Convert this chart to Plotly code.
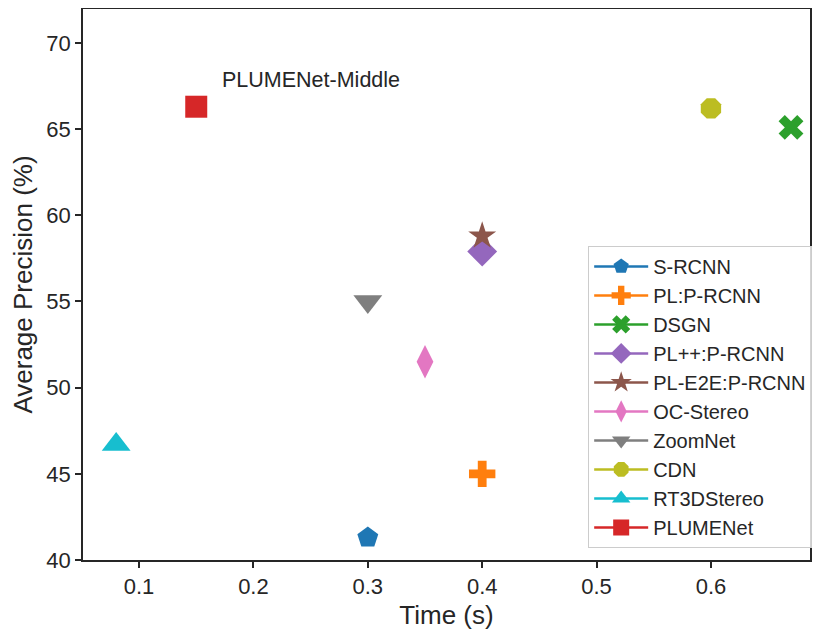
import plotly.graph_objects as go

# methods, runtime (s) and AP (%)
methods = ['S-RCNN', 'PL:P-RCNN', 'DSGN', 'PL++:P-RCNN', 'PL-E2E:P-RCNN',
           'OC-Stereo', 'ZoomNet', 'CDN', 'RT3DStereo', 'PLUMENet']
times = [0.30, 0.40, 0.67, 0.40, 0.40, 0.35, 0.30, 0.60, 0.08, 0.15]
precision = [41.3, 45.0, 65.1, 57.9, 58.8, 51.5, 55.0, 66.2, 46.7, 66.3]

symbols = ['pentagon', 'cross', 'x', 'diamond', 'star',
           'diamond-tall', 'triangle-down', 'octagon', 'triangle-up', 'square']
colors = ['#1f77b4', '#ff7f0e', '#2ca02c', '#9467bd', '#8c564b',
          '#e377c2', '#7f7f7f', '#bcbd22', '#17becf', '#d62728']
sizes = [22, 22, 22, 23, 21, 24, 25, 22, 25, 22]

x_ticks = [0.1, 0.2, 0.3, 0.4, 0.5, 0.6]
y_ticks = [40, 45, 50, 55, 60, 65, 70]

fig = go.Figure()
for name, t, ap, sym, col, sz in zip(methods, times, precision, symbols, colors, sizes):
    fig.add_trace(go.Scatter(
        x=[t], y=[ap], name=name, mode='lines+markers',
        marker=dict(symbol=sym, color=col, size=sz, line=dict(width=0)),
        line=dict(color=col, width=2.5),
    ))

fig.add_annotation(x=0.171, y=67.85, text='PLUMENet-Middle', showarrow=False,
                   xanchor='left', yanchor='middle',
                   font=dict(size=21.5, color='#262626'))

axis_style = dict(
    showgrid=False, zeroline=False, showline=True, mirror=True, automargin=False,
    linecolor='#262626', linewidth=1.5, ticks='outside', ticklen=6,
    tickwidth=1.5, tickcolor='#262626', tickfont=dict(size=22, color='#262626'),
)

fig.update_xaxes(range=[0.051, 0.6866], tickvals=x_ticks,
                 title=dict(text='Time (s)', font=dict(size=26, color='#262626'), standoff=8),
                 **axis_style)
fig.update_yaxes(range=[40, 71.97], tickvals=y_ticks,
                 title=dict(text='Average Precision (%)', font=dict(size=26, color='#262626'), standoff=8),
                 **axis_style)

# page adds an 8px body margin, margins are shifted to compensate
fig.update_layout(
    width=830, height=641,
    margin=dict(l=75, r=28, t=1, b=89),
    plot_bgcolor='white', paper_bgcolor='white',
    font=dict(family='Liberation Sans, Arial, sans-serif', color='#262626'),
    legend=dict(x=1.003, y=0.022, xanchor='right', yanchor='bottom',
                bgcolor='rgba(255,255,255,0.8)', bordercolor='#cccccc', borderwidth=1,
                font=dict(size=20, color='#262626'), tracegroupgap=4, itemwidth=54),
)

fig.write_html('out.html')
